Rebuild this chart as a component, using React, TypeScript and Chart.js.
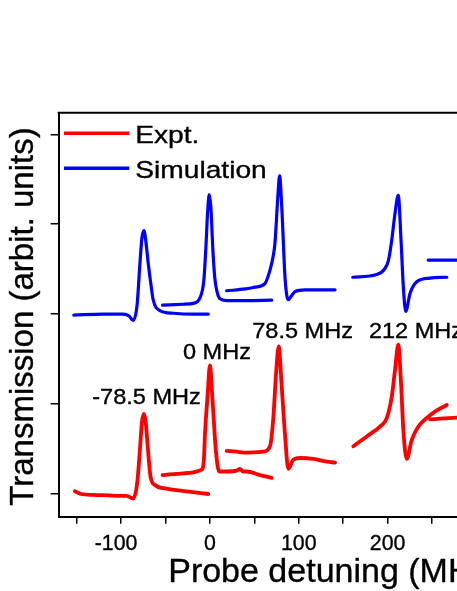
import React, { useEffect, useRef } from 'react';
import { Chart, registerables } from 'chart.js';

Chart.register(...registerables);

// Axis ticks
const xTicks = [-150, -100, -50, 0, 50, 100, 150, 200, 250];
const xLabelTicks = [-100, 0, 100, 200];
const yTicks = [0, 1, 2, 3, 4];

// Simulation segments [detuning MHz, transmission]
const sim1: [number, number][] = [
  [-153.2, 1.99], [-120, 2.0], [-97.6, 2.0], [-91, 1.98], [-86.4, 1.93], [-82, 2.1],
  [-78.8, 2.56], [-76.5, 2.85], [-74.3, 2.93], [-72, 2.8], [-69.5, 2.57], [-66, 2.3],
  [-63.9, 2.16], [-56.3, 2.04], [-41.3, 2.01], [-20, 2.0], [-1.9, 2.0],
];
const sim2: [number, number][] = [
  [-53.3, 2.1], [-30, 2.11], [-18.8, 2.12], [-11.3, 2.18], [-6.8, 2.38], [-4.5, 2.75],
  [-2.5, 3.15], [-0.8, 3.33], [1, 3.2], [3.4, 2.7], [5.5, 2.4], [8, 2.25], [11.3, 2.17],
  [18.8, 2.15], [40, 2.15], [69.5, 2.155],
];
const sim3: [number, number][] = [
  [18.8, 2.26], [40, 2.28], [50.7, 2.3], [61.9, 2.34], [67.6, 2.49], [71.3, 2.65],
  [73.2, 2.79], [76.2, 3.27], [78.5, 3.54], [80.3, 3.3], [81.9, 2.97], [84.5, 2.41],
  [88.2, 2.16], [91.5, 2.2], [95.7, 2.25], [107, 2.27], [140.8, 2.27],
];
const sim4: [number, number][] = [
  [160.7, 2.41], [187.7, 2.44], [197.1, 2.51], [201, 2.6], [204.6, 2.82], [208.3, 3.12],
  [212, 3.32], [215.1, 2.82], [217.7, 2.3], [220.4, 2.03], [225.2, 2.23], [232.8, 2.36],
  [247.7, 2.4], [266.6, 2.41],
];
const sim5: [number, number][] = [[245.8, 2.6], [290, 2.6]];

// Experimental segments [detuning MHz, transmission]
const expt1: [number, number][] = [
  [-152, 0.03], [-145, 0.0], [-131.4, -0.01], [-115, -0.015], [-100, -0.02], [-93.8, -0.02],
  [-86.4, -0.05], [-81.9, 0.12], [-78.8, 0.49], [-76.5, 0.8], [-74.3, 0.89], [-72.3, 0.8],
  [-70.6, 0.6], [-66.8, 0.19], [-61.9, 0.1], [-48.8, 0.06], [-26.2, 0.03], [-1.9, 0.0],
];
const expt2: [number, number][] = [
  [-53.3, 0.21], [-30.1, 0.23], [-9.3, 0.27], [-6.8, 0.38], [-5.6, 0.66], [-2.6, 1.1],
  [0, 1.43], [3.0, 1.03], [6.8, 0.47], [10.5, 0.25], [18.8, 0.25], [30, 0.26], [33.8, 0.28],
  [37, 0.25], [41.3, 0.25], [56.3, 0.21], [69.5, 0.18],
];
const expt3: [number, number][] = [
  [18.8, 0.48], [30, 0.47], [41.3, 0.46], [60, 0.47], [67.6, 0.53], [71.3, 0.84],
  [74.3, 1.32], [77.4, 1.64], [80.7, 1.21], [84.5, 0.66], [88.2, 0.28], [93.8, 0.38],
  [101.4, 0.4], [116.3, 0.39], [131.4, 0.36], [140.8, 0.35],
];
const expt4: [number, number][] = [
  [161.4, 0.53], [176.5, 0.64], [191.4, 0.75], [198.9, 0.84], [204.6, 1.08], [208.3, 1.38],
  [212, 1.66], [215.1, 1.23], [217.7, 0.71], [221.5, 0.39], [227.1, 0.6], [234.6, 0.75],
  [245.8, 0.86], [255.3, 0.93], [266.6, 0.99],
];
const expt5: [number, number][] = [[247.7, 0.83], [262.7, 0.84], [278.2, 0.85], [290, 0.86]];

// Peak annotations: text, anchor detuning, anchor transmission (baseline-left)
const annLabels = ['-78.5 MHz', '0 MHz', '78.5 MHz', '212 MHz'];
const annX = [-132.5, -30.4, 47.6, 178.9];
const annY = [1.0, 1.5, 1.73, 1.73];

const legendLabels = ['Expt.', 'Simulation'];
const RED = '#ff0000';
const BLUE = '#0000ff';
const FONT = '"Liberation Sans", Arial, Helvetica, sans-serif';

const W = 480;
const H = 591;

export default function App() {
  const ref = useRef<HTMLCanvasElement>(null);

  useEffect(() => {
    if (!ref.current) return;

    const drawText = (
      ctx: CanvasRenderingContext2D, text: string, x: number, y: number,
      size: number, sx = 1, align: CanvasTextAlign = 'left', rot = 0,
    ) => {
      ctx.save();
      ctx.translate(x, y);
      if (rot) ctx.rotate(rot);
      ctx.scale(sx, 1);
      ctx.font = `${size}px ${FONT}`;
      ctx.fillStyle = '#000';
      ctx.strokeStyle = '#000';
      ctx.lineWidth = 0.35;
      ctx.textAlign = align;
      ctx.textBaseline = 'alphabetic';
      ctx.fillText(text, 0, 0);
      ctx.strokeText(text, 0, 0);
      ctx.restore();
    };

    const decor = {
      id: 'decor',
      afterDraw(chart: any) {
        const { ctx, chartArea: ca, scales } = chart;
        const xs = scales.x;
        const ys = scales.y;
        ctx.save();
        // top & right frame
        ctx.strokeStyle = '#000';
        ctx.lineWidth = 2;
        ctx.beginPath();
        ctx.moveTo(ca.left - 1, ca.top);
        ctx.lineTo(ca.right, ca.top);
        ctx.lineTo(ca.right, ca.bottom);
        ctx.stroke();

        // x tick labels
        xLabelTicks.forEach((v) => {
          const off = v < 0 ? -5 : 0;
          drawText(ctx, String(v), xs.getPixelForValue(v) + off, ca.bottom + 33.3, 22, 0.97, 'center');
        });
        // axis titles
        drawText(ctx, 'Probe detuning (MHz)', ca.left + 109.5, ca.bottom + 65, 34, 1, 'left');
        drawText(ctx, 'Transmission (arbit. units)', 33.3, 316.5, 33, 1, 'center', -Math.PI / 2);

        // legend
        const colors = [RED, BLUE];
        const ly = [ca.top + 20.6, ca.top + 55.6];
        const tb = [ca.top + 30.6, ca.top + 65.3];
        legendLabels.forEach((lab, i) => {
          ctx.strokeStyle = colors[i];
          ctx.lineWidth = 3.5;
          ctx.beginPath();
          ctx.moveTo(ca.left + 5.3, ly[i]);
          ctx.lineTo(ca.left + 70.6, ly[i]);
          ctx.stroke();
          drawText(ctx, lab, ca.left + 76.5, tb[i], 24.5, 1.15, 'left');
        });

        // annotations
        annLabels.forEach((lab, i) => {
          drawText(ctx, lab, xs.getPixelForValue(annX[i]), ys.getPixelForValue(annY[i]), 22, 1.07, 'left');
        });
        ctx.restore();
      },
    };

    const mk = (pts: [number, number][], color: string, width: number) => ({
      data: pts.map(([x, y]) => ({ x, y })),
      borderColor: color,
      backgroundColor: color,
      borderWidth: width,
      pointRadius: 0,
      fill: false,
      cubicInterpolationMode: 'monotone' as const,
      borderCapStyle: 'round' as const,
      borderJoinStyle: 'round' as const,
    });

    const chart = new Chart(ref.current, {
      type: 'line',
      data: {
        datasets: [
          mk(expt1, RED, 3.8), mk(expt2, RED, 3.8), mk(expt3, RED, 3.8), mk(expt4, RED, 3.8), mk(expt5, RED, 3.8),
          mk(sim1, BLUE, 3.2), mk(sim2, BLUE, 3.2), mk(sim3, BLUE, 3.2), mk(sim4, BLUE, 3.2), mk(sim5, BLUE, 3.2),
        ],
      },
      options: {
        animation: false,
        responsive: false,
        maintainAspectRatio: false,
        devicePixelRatio: 1,
        layout: { padding: { top: 112.7, left: 0, right: W - 467.6, bottom: 0 } },
        plugins: { legend: { display: false }, tooltip: { enabled: false } },
        events: [],
        scales: {
          x: {
            type: 'linear',
            min: -170.2,
            max: 290,
            ticks: { display: false },
            grid: { drawOnChartArea: false, drawTicks: true, tickLength: 7, color: '#000', lineWidth: 1.5 },
            border: { display: true, color: '#000', width: 2 },
            afterBuildTicks: (s: any) => { s.ticks = xTicks.map((v) => ({ value: v })); },
            afterFit: (s: any) => { s.height = H - 516.7; },
          },
          y: {
            type: 'linear',
            min: -0.2525,
            max: 4.24,
            ticks: { display: false },
            grid: { drawOnChartArea: false, drawTicks: true, tickLength: 8, color: '#000', lineWidth: 1.5 },
            border: { display: true, color: '#000', width: 2 },
            afterBuildTicks: (s: any) => { s.ticks = yTicks.map((v) => ({ value: v })); },
            afterFit: (s: any) => { s.width = 58.7; },
          },
        },
      },
      plugins: [decor],
    } as any);

    return () => chart.destroy();
  }, []);

  return (
    <div style={{ position: 'absolute', left: 0, top: 0, width: 457, height: 591, overflow: 'hidden', background: '#fff' }}>
      <canvas ref={ref} width={W} height={H} style={{ display: 'block', width: W, height: H }} />
    </div>
  );
}
